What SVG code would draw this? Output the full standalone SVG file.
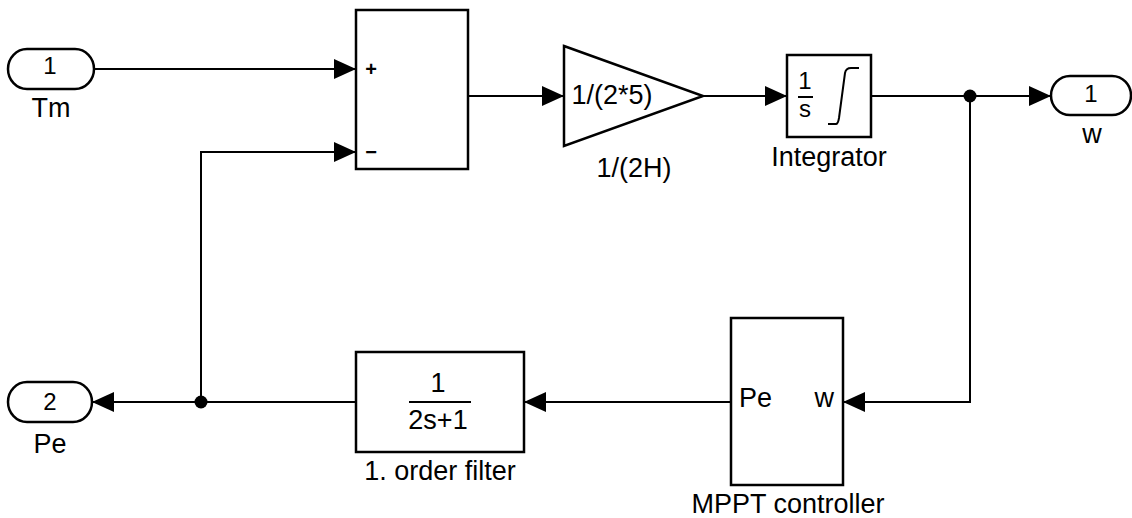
<svg xmlns="http://www.w3.org/2000/svg" width="1132" height="518" viewBox="0 0 1132 518">
<style>
.blk{fill:#fff;stroke:#000;stroke-width:2.5}
.ln{fill:none;stroke:#000;stroke-width:2}
.t{font-family:"Liberation Sans",Arial,sans-serif;font-size:27px;fill:#000;text-anchor:middle}
.pn{font-family:"Liberation Sans",Arial,sans-serif;font-size:24px;fill:#000;text-anchor:middle}
.sg{font-family:"Liberation Sans",Arial,sans-serif;font-size:20px;font-weight:bold;fill:#000;text-anchor:middle}
.dot{fill:#000}
</style>
<defs>
<marker id="ah" markerWidth="22" markerHeight="20" refX="22" refY="10" orient="auto" markerUnits="userSpaceOnUse">
<path d="M0,0 L22,10 L0,20 Z" fill="#000"/>
</marker>
</defs>
<g id="connectors">
<path class="ln" d="M94,69 H356" marker-end="url(#ah)"/>
<path class="ln" d="M201,402 V152 H356" marker-end="url(#ah)"/>
<path class="ln" d="M468,96 H564" marker-end="url(#ah)"/>
<path class="ln" d="M703,96 H787" marker-end="url(#ah)"/>
<path class="ln" d="M871,96 H1051" marker-end="url(#ah)"/>
<path class="ln" d="M970,96 V402 H843" marker-end="url(#ah)"/>
<path class="ln" d="M731,402 H524" marker-end="url(#ah)"/>
<path class="ln" d="M356,402 H92" marker-end="url(#ah)"/>
<circle class="dot" cx="970" cy="96" r="6.5"/>
<circle class="dot" cx="201" cy="402" r="6.5"/>
</g>
<g id="inport-Tm">
<rect class="blk" x="8" y="49" width="86" height="40" rx="19" ry="20"/>
<text class="pn" x="50" y="74">1</text>
<text class="t" x="51" y="117">Tm</text>
</g>
<g id="sum">
<rect class="blk" x="356" y="10" width="112" height="159"/>
<text class="sg" x="371" y="76">+</text>
<text class="sg" x="371" y="159">−</text>
</g>
<g id="gain">
<path class="blk" d="M564,46 L703,96 L564,146 Z"/>
<text class="t" x="612" y="104">1/(2*5)</text>
<text class="t" x="634" y="177">1/(2H)</text>
</g>
<g id="integrator">
<rect class="blk" x="787" y="55" width="84" height="82"/>
<text class="pn" x="805" y="89">1</text>
<line x1="798" y1="97" x2="813" y2="97" stroke="#000" stroke-width="2"/>
<text class="pn" x="805" y="117">s</text>
<path class="ln" d="M828,124 H836 Q838,124 839,118 L845,73 Q846,68 851,68 H859" stroke-width="2.5"/>
<text class="t" x="829" y="166">Integrator</text>
</g>
<g id="outport-w">
<rect class="blk" x="1051" y="76" width="80" height="39" rx="19" ry="19.5"/>
<text class="pn" x="1091" y="102">1</text>
<text class="t" x="1092" y="143">w</text>
</g>
<g id="mppt">
<rect class="blk" x="731" y="318" width="112" height="167"/>
<text class="t" x="739" y="407" style="text-anchor:start">Pe</text>
<text class="t" x="834" y="407" style="text-anchor:end">w</text>
<text class="t" x="788" y="513">MPPT controller</text>
</g>
<g id="filter">
<rect class="blk" x="356" y="352" width="168" height="100"/>
<text class="t" x="438" y="392">1</text>
<line x1="409" y1="402" x2="471" y2="402" stroke="#000" stroke-width="2"/>
<text class="t" x="438" y="429">2s+1</text>
<text class="t" x="440" y="480">1. order filter</text>
</g>
<g id="outport-Pe">
<rect class="blk" x="8" y="382" width="84" height="40" rx="19" ry="20"/>
<text class="pn" x="50" y="410">2</text>
<text class="t" x="50" y="453">Pe</text>
</g>
</svg>
